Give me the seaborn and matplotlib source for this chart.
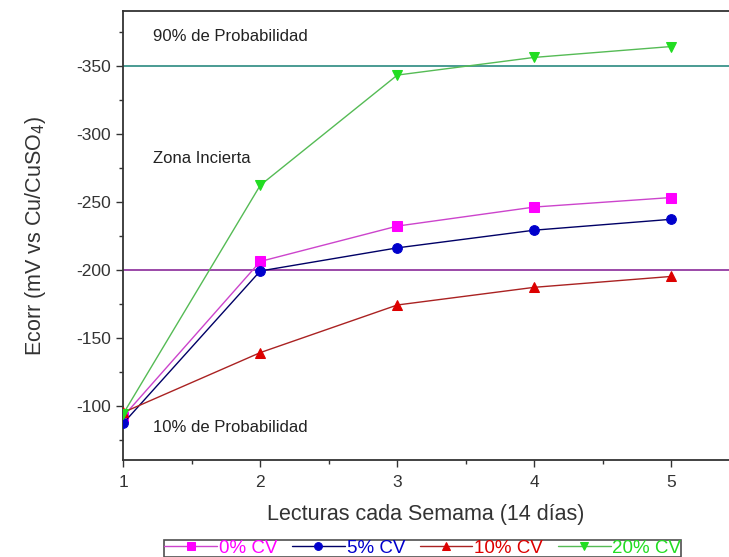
import matplotlib
matplotlib.use("Agg")
import matplotlib.pyplot as plt
import seaborn as sns
import pandas as pd
from matplotlib.ticker import MultipleLocator

# ---------------- Data ----------------
lecturas = [1, 2, 3, 4, 5]
cv_0 = [-92, -206, -232, -246, -253]
cv_5 = [-87, -199, -216, -229, -237]
cv_10 = [-95, -139, -174, -187, -195]
cv_20 = [-94, -262, -343, -356, -364]

series_names = ['0% CV', '5% CV', '10% CV', '20% CV']
colors = ['#ff00ff', '#0000cc', '#dd0000', '#22dd22']
line_colors = ['#cc44cc', '#000066', '#aa2222', '#55bb55']
markers = ['s', 'o', '^', 'v']

df = pd.DataFrame({
    'Lectura': lecturas * 4,
    'Ecorr': cv_0 + cv_5 + cv_10 + cv_20,
    'Serie': [s for s in series_names for _ in lecturas],
})

sns.set_style("white")
plt.rcParams['font.family'] = ['Liberation Sans', 'DejaVu Sans']

fig = plt.figure(figsize=(7.29, 5.57), dpi=100)
ax = fig.add_axes([0.169, 0.174, 0.831, 0.806])

# threshold lines
ax.axhline(-350, color='#2a8a80', lw=1.2, zorder=1)
ax.axhline(-200, color='#8a2a9a', lw=1.2, zorder=1)

for name, lc, mc, mk in zip(series_names, line_colors, colors, markers):
    sub = df[df['Serie'] == name]
    sns.lineplot(data=sub, x='Lectura', y='Ecorr', ax=ax, color=lc, lw=1,
                 marker=mk, markersize=7, markerfacecolor=mc,
                 markeredgecolor=mc, label=name, zorder=3)

ax.set_xlim(1, 5.42)
ax.set_ylim(-60, -390)
ax.xaxis.set_major_locator(MultipleLocator(1))
ax.xaxis.set_minor_locator(MultipleLocator(0.5))
ax.yaxis.set_major_locator(MultipleLocator(50))
ax.yaxis.set_minor_locator(MultipleLocator(25))
ax.tick_params(which='major', direction='out', length=5, width=1,
               labelsize=12.5, color='#333333', labelcolor='#333333',
               bottom=True, left=True, pad=4)
ax.tick_params(axis='x', which='major', pad=6)
ax.tick_params(which='minor', direction='out', length=3, width=1,
               color='#333333', bottom=True, left=True)
ax.set_yticklabels([f'{int(v)}' for v in ax.get_yticks()])

for side in ['left', 'top', 'bottom']:
    ax.spines[side].set_color('#333333')
    ax.spines[side].set_linewidth(1.3)
ax.spines['right'].set_visible(False)

ax.set_xlabel('Lecturas cada Semama (14 días)', fontsize=15.5, color='#333333',
              labelpad=10)
ax.set_ylabel('Ecorr (mV vs Cu/CuSO$_4$)', fontsize=15.5, color='#333333',
              labelpad=20)

ax.text(1.22, -371, '90% de Probabilidad', fontsize=12, color='#222222',
        va='center')
ax.text(1.22, -282, 'Zona Incierta', fontsize=12, color='#222222',
        va='center')
ax.text(1.22, -84, '10% de Probabilidad', fontsize=12, color='#222222',
        va='center')

leg = ax.legend(loc='lower center', bbox_to_anchor=(0.58, 0.0),
                bbox_transform=fig.transFigure, ncol=4, frameon=True,
                fancybox=False, edgecolor='#222222', fontsize=13.5,
                labelcolor='markerfacecolor', handlelength=2.8,
                handletextpad=0.1, columnspacing=0.8, borderpad=0.0,
                borderaxespad=0, markerscale=0.8)
leg.get_frame().set_linewidth(1.2)

fig.savefig('out.png', dpi=100)
